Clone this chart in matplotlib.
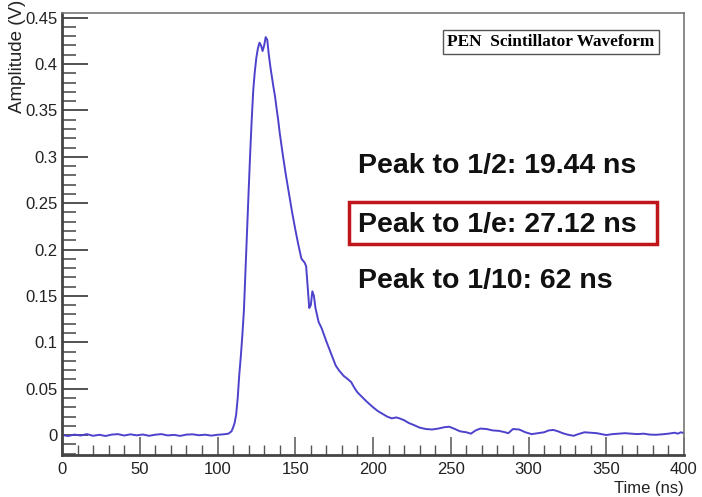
import matplotlib
matplotlib.use("Agg")
import matplotlib.pyplot as plt
from matplotlib.ticker import MultipleLocator
from matplotlib.patches import Rectangle

plt.rcParams['font.family'] = ['Liberation Sans', 'DejaVu Sans']

# waveform (ns, V)
time_ns = [0, 4, 8, 12, 16, 20, 24, 28, 32, 36, 40, 44, 48, 52, 56, 60, 64, 68, 72, 76,
           80, 84, 88, 92, 96, 100, 104, 107, 109, 110, 111, 112, 113, 114, 115, 116,
           117, 118, 119, 120, 121, 122, 123, 124, 125, 126, 127, 128, 129, 130, 131,
           132, 133, 134, 135, 136, 137, 138, 139, 140, 142, 144, 146, 148, 150, 152,
           154, 156, 157, 158, 159, 160, 161, 162, 163, 165, 167, 170, 173, 176, 178,
           181, 184, 186, 188, 190, 193, 196, 200, 203, 206, 209, 212, 215, 217, 220,
           223, 226, 230, 234, 238, 242, 246, 249, 252, 256, 260, 263, 266, 269, 273,
           277, 281, 285, 287, 290, 294, 298, 302, 306, 310, 313, 316, 319, 322, 325,
           329, 332, 336, 340, 344, 347, 350, 354, 358, 362, 366, 370, 374, 378, 382,
           386, 390, 394, 396, 398, 400]
amplitude = [0.000, -0.001, 0.0005, -0.0005, 0.001, -0.0008, 0.0003, -0.001, 0.0005, 0.001,
             -0.0005, 0.0008, -0.0003, 0.0006, -0.0008, 0.0004, 0.001, -0.0004, 0.0002, -0.0009,
             0.0005, 0.0008, -0.0002, 0.0004, -0.0006, 0.0003, 0.0008, 0.0015, 0.004, 0.008,
             0.013, 0.022, 0.040, 0.065, 0.085, 0.108, 0.135, 0.178, 0.220, 0.262, 0.303,
             0.340, 0.372, 0.392, 0.407, 0.417, 0.423, 0.420, 0.414, 0.420, 0.429, 0.426,
             0.410, 0.397, 0.386, 0.375, 0.365, 0.352, 0.340, 0.326, 0.302, 0.280, 0.260,
             0.240, 0.222, 0.205, 0.190, 0.186, 0.182, 0.160, 0.137, 0.140, 0.155, 0.150,
             0.137, 0.122, 0.115, 0.101, 0.088, 0.075, 0.070, 0.064, 0.060, 0.057, 0.051,
             0.046, 0.041, 0.036, 0.030, 0.026, 0.023, 0.020, 0.018, 0.019, 0.018, 0.016,
             0.013, 0.011, 0.008, 0.0065, 0.006, 0.007, 0.0085, 0.009, 0.007, 0.004, 0.003,
             0.0015, 0.005, 0.007, 0.0065, 0.005, 0.0045, 0.003, 0.002, 0.0065, 0.006, 0.003,
             0.001, 0.002, 0.003, 0.005, 0.0055, 0.004, 0.002, 0.0005, -0.0008, 0.001, 0.003,
             0.0025, 0.002, 0.001, 0.0, 0.001, 0.0015, 0.002, 0.0015, 0.001, 0.0015, 0.0005,
             0.0003, 0.0008, 0.0015, 0.0025, 0.0015, 0.003, 0.002]

x_ticks = [0, 50, 100, 150, 200, 250, 300, 350, 400]
y_ticks = [0, 0.05, 0.1, 0.15, 0.2, 0.25, 0.3, 0.35, 0.4, 0.45]
y_labels = ['0', '0.05', '0.1', '0.15', '0.2', '0.25', '0.3', '0.35', '0.4', '0.45']

results = ['Peak to 1/2: 19.44 ns', 'Peak to 1/e: 27.12 ns', 'Peak to 1/10: 62 ns']

fig = plt.figure(figsize=(7.02, 4.97), dpi=100)
ax = fig.add_axes([62 / 702, 1 - 455 / 497, 622 / 702, 442 / 497])

ax.plot(time_ns, amplitude, color='#4d42cc', lw=1.4)

ax.set_xlim(0, 400)
ax.set_ylim(-0.0215, 0.455)
ax.set_xticks(x_ticks)
ax.set_yticks(y_ticks)
ax.set_yticklabels(y_labels)
ax.xaxis.set_minor_locator(MultipleLocator(10))
ax.yaxis.set_minor_locator(MultipleLocator(0.01))

ax.tick_params(axis='y', which='major', direction='in', length=19, width=1.3, color='#444444',
               labelsize=12, labelcolor='#222222', pad=3)
ax.tick_params(axis='y', which='minor', direction='in', length=10, width=1.1, color='#444444')
ax.tick_params(axis='x', which='major', direction='in', length=13, width=1.1, color='#555555',
               labelsize=12, labelcolor='#222222', pad=5)
ax.tick_params(axis='x', which='minor', direction='in', length=7, width=1.0, color='#555555')

for side in ['left', 'bottom']:
    ax.spines[side].set_linewidth(2.0)
    ax.spines[side].set_color('#444444')
for side in ['top', 'right']:
    ax.spines[side].set_linewidth(1.2)
    ax.spines[side].set_color('#777777')

fig.text(684 / 702, 1 - 493 / 497, 'Time (ns)', ha='right', va='baseline', fontsize=12, color='#222222')
fig.text(18 / 702, 1 - 0 / 497, 'Amplitude (V)', rotation=90, ha='center', va='top', fontsize=13.5,
         color='#222222')

# title box
fig.text(551 / 702, 1 - 42 / 497, 'PEN  Scintillator Waveform', ha='center', va='center',
         fontsize=12.4, fontweight='bold', family=['Liberation Serif', 'DejaVu Serif'],
         bbox=dict(boxstyle='square,pad=0.25', fc='white', ec='#555555', lw=1.0))

ys = [173, 232, 288]
for txt, y in zip(results, ys):
    fig.text(358 / 702, 1 - y / 497, txt, ha='left', va='baseline', fontsize=20.5, fontweight='bold',
             color='#111111')

fig.patches.append(Rectangle((349 / 702, 1 - 244 / 497), 308 / 702, 42 / 497,
                             transform=fig.transFigure, fill=False, ec='#c0151a', lw=2.5))

fig.savefig('out.png', dpi=100)
